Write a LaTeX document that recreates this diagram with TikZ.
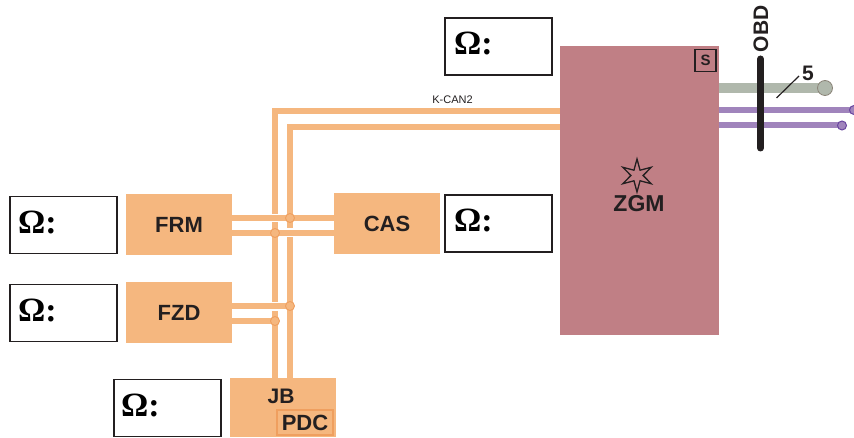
\documentclass[tikz,border=0pt]{standalone}
\usepackage{fontspec}
\setmainfont{Liberation Sans}
\newfontfamily\omegafont{Liberation Serif}
\usetikzlibrary{arrows.meta,calc,positioning,shapes.geometric}
\definecolor{ecuOrange}{HTML}{F5B77F}
\definecolor{ecuOrangeTwo}{HTML}{EF9F5F}
\definecolor{ecuRose}{HTML}{C07F85}
\definecolor{ecuInk}{HTML}{231F20}
\definecolor{ecuGrey}{HTML}{B0B8AC}
\definecolor{ecuGreyEdge}{HTML}{8A8478}
\definecolor{ecuPurple}{HTML}{A084BC}
\definecolor{ecuPurpleTwo}{HTML}{6A46A0}

\begin{document}
\begin{tikzpicture}[x=1pt,y=-1pt,line cap=butt,line join=miter]
\useasboundingbox (0,0) rectangle (854,438);
\tikzset{unit/.style={fill=ecuOrange,text=ecuInk,font=\bfseries\fontsize{22}{24}\selectfont,minimum width=106pt,minimum height=61pt,inner sep=0pt},
  ohmbox/.style={draw=ecuInk,fill=white,line width=1.2pt,minimum width=107pt,minimum height=57pt,inner sep=0pt},
  ohmtext/.style={anchor=west,text=black,font=\omegafont\bfseries\fontsize{34}{36}\selectfont,inner sep=0pt},
  wire/.style={draw=ecuOrange,line width=6pt},
  joint/.style={circle,draw=ecuOrangeTwo,fill=ecuOrange,line width=0.9pt,minimum size=9pt,inner sep=0pt},
  purplewire/.style={draw=ecuPurple,line width=6pt},
  purpleend/.style={circle,draw=ecuPurpleTwo,fill=ecuPurple,line width=1pt,minimum size=9pt,inner sep=0pt},
  greyend/.style={circle,draw=ecuGreyEdge,fill=ecuGrey,line width=0.8pt,minimum size=15pt,inner sep=0pt}}
% control units
\node[fill=ecuRose,minimum width=159pt,minimum height=289pt,inner sep=0pt] (zgm) at (639.5,190.5) {};
\node[unit] (frm) at (179,224.5) {FRM};
\node[unit] (cas) at (387,223.5) {CAS};
\node[unit] (fzd) at (179,312.5) {FZD};
\node[unit,minimum height=59pt] (jb) at (283,407.5) {};
\node[text=ecuInk,font=\bfseries\fontsize{21}{23}\selectfont] (jbname) at (281,396) {JB};
\node[draw=ecuOrangeTwo,line width=1.5pt,text=ecuInk,font=\bfseries\fontsize{22}{24}\selectfont,minimum width=56pt,minimum height=25pt,inner sep=0pt] (pdc) at (305,422.5) {PDC};
% terminal boxes
\node[ohmbox] (ohmA) at (498.5,46.5) {}; \node[ohmtext] (ohmAtext) at (454,43) {Ω:};
\node[ohmbox] (ohmB) at (63.5,225) {}; \node[ohmtext] (ohmBtext) at (18,222) {Ω:};
\node[ohmbox] (ohmC) at (498.5,223.5) {}; \node[ohmtext] (ohmCtext) at (454,220) {Ω:};
\node[ohmbox] (ohmD) at (63.5,313) {}; \node[ohmtext] (ohmDtext) at (18,310) {Ω:};
\node[ohmbox] (ohmE) at (167.5,408) {}; \node[ohmtext] (ohmEtext) at (121,405) {Ω:};
% K-CAN2 pair
\coordinate (busA) at (275,111); \coordinate (busB) at (290,127);
\coordinate (crossA) at (290,218); \coordinate (crossB) at (275,233);
\coordinate (crossC) at (290,306); \coordinate (crossD) at (275,321);
\draw[wire] (zgm.west |- busA) -- (busA) -- ($(busA |- crossA)+(0,-4)$);
\draw[wire] ($(busA |- crossA)+(0,4)$) -- ($(busA |- crossC)+(0,-4)$);
\draw[wire] ($(busA |- crossC)+(0,5)$) -- (busA |- jb.north);
\draw[wire] (zgm.west |- busB) -- (busB) -- ($(busB |- crossB)+(0,-5)$);
\draw[wire] ($(busB |- crossB)+(0,4)$) -- (busB |- jb.north);
\draw[wire] (frm.east |- crossA) -- (cas.west |- crossA);
\draw[wire] (frm.east |- crossB) -- (cas.west |- crossB);
\draw[wire] (fzd.east |- crossC) -- (crossC);
\draw[wire] (fzd.east |- crossD) -- (crossD);
\node[joint] (jointA) at (crossA) {}; \node[joint] (jointB) at (crossB) {};
\node[joint] (jointC) at (crossC) {}; \node[joint] (jointD) at (crossD) {};
\node[text=ecuInk,font=\fontsize{11}{12}\selectfont] (kcan) at (452.5,99.5) {K-CAN2};
% ZGM details
\node[star,star points=6,star point ratio=2.7,draw=ecuInk,line width=1.3pt,minimum size=33pt,inner sep=0pt] (zgmstar) at (637,175.5) {};
\node[text=ecuInk,font=\bfseries\fontsize{23}{25}\selectfont] (zgmname) at (639,204) {ZGM};
\node[draw=ecuInk,line width=1.5pt,text=ecuInk,font=\bfseries\fontsize{15}{17}\selectfont,minimum width=21pt,minimum height=22pt,inner sep=0pt] (sbox) at (705.5,60.5) {S};
% outgoing lines
\coordinate (greypt) at (825,88); \coordinate (purplept) at (854,110); \coordinate (purpleptB) at (842,125.5);
\draw[draw=ecuGrey,line width=10pt] (zgm.east |- greypt) -- (greypt);
\draw[purplewire] (zgm.east |- purplept) -- (purplept);
\draw[purplewire] (zgm.east |- purpleptB) -- (purpleptB);
\node[greyend] (greyball) at (greypt) {};
\node[purpleend] (purpleA) at (purplept) {};
\node[purpleend] (purpleB) at (purpleptB) {};
% OBD bar
\coordinate (obdtop) at (760.5,59); \coordinate (obdbot) at (760.5,148);
\draw[draw=ecuInk,line width=7pt,line cap=round] (obdtop) -- (obdbot);
\node[rotate=90,text=ecuInk,font=\bfseries\fontsize{21}{23}\selectfont,inner sep=0pt] (obd) at (761,29) {OBD};
\node[text=ecuInk,font=\bfseries\fontsize{21}{23}\selectfont,inner sep=0pt] (five) at (808,73) {5};
\coordinate (fivetip) at (776.5,98);
\draw[draw=ecuInk,line width=1.2pt] (799,76) -- (fivetip);
\end{tikzpicture}
\end{document}
